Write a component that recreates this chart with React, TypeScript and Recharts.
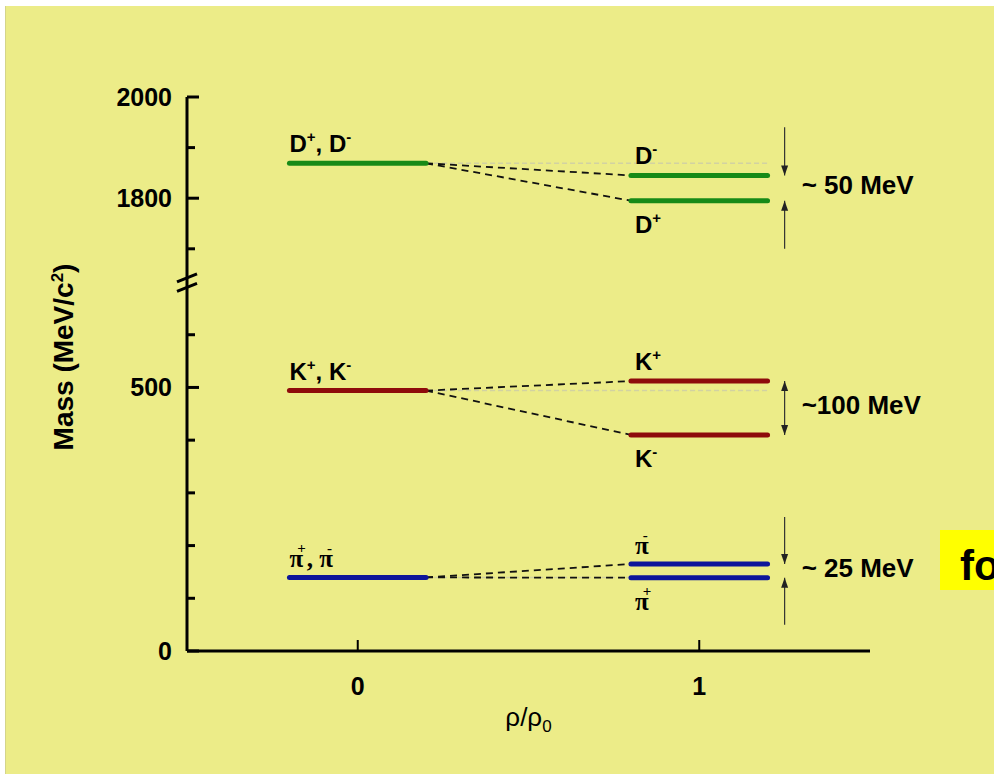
import React from 'react';
import { ComposedChart, Line, Scatter, XAxis, YAxis, Label } from 'recharts';

// ---------------- data ----------------
const MESONS = ['D', 'K', 'π'];
const VACUUM_MASS = [1869, 494, 139.6];        // ρ/ρ0 = 0
const MEDIUM_UPPER_MASS = [1845, 512, 165];    // ρ/ρ0 = 1 : D-, K+, π-
const MEDIUM_LOWER_MASS = [1795, 410, 139];    // ρ/ρ0 = 1 : D+, K-, π+
const VACUUM_LABELS = ['D^+, D^-', 'K^+, K^-', 'π^+, π^-'];
const UPPER_LABELS = ['D^-', 'K^+', 'π^-'];
const LOWER_LABELS = ['D^+', 'K^-', 'π^+'];
const SPLITTING_LABELS = ['~ 50 MeV', '~100 MeV', '~ 25 MeV'];
const ARROW_OUTER_TOP = [1940, null, 254];
const ARROW_OUTER_BOTTOM = [1700, null, 50];
const DENSITY = [0, 1];
const X_DOMAIN = [-0.5, 1.5];
const MASS_MAJOR_TICKS = [0, 500, 1800, 2000];
const MASS_MINOR_TICKS = [100, 200, 300, 400, 600, 1700, 1900];
const AXIS_BREAK = [690, 708];
const X_TITLE = 'ρ/ρ_0';
const Y_TITLE = 'Mass (MeV/c^2)';
const SIDE_NOTE = 'fo';

// ------------- broken axis mapping -------------
const LOWER_MAX = 1000;
const UPPER_ORIGIN = 1800;
const UPPER_BASE = 859;
const UPPER_FACTOR = 0.96;
const toAxis = (m: number) => (m <= LOWER_MAX ? m : UPPER_BASE + (m - UPPER_ORIGIN) * UPPER_FACTOR);

const Y_TICKS = [...MASS_MAJOR_TICKS, ...MASS_MINOR_TICKS].sort((a, b) => a - b);
const Y_TICK_AXIS = Y_TICKS.map(toAxis);
const Y_DOMAIN = [0, toAxis(2000)];

// ------------- style -------------
const W = 994;
const H = 774;
const BG = '#ECEC88';
const COLORS = ['#178a17', '#8e0b0b', '#0d159a'];
const SANS = '"Liberation Sans", Arial, sans-serif';
const SERIF = '"Liberation Serif", "Times New Roman", serif';
const HALF = 0.2;
const ARROW_X = DENSITY[1] + 0.25;

function rich(src: string, supSize: number, supRise: number, supDx: number, afterDx = 0) {
  const parts: { t: string; k: string }[] = [];
  let buf = '';
  for (let i = 0; i < src.length; i++) {
    const c = src[i];
    if ((c === '^' || c === '_') && i + 1 < src.length) {
      if (buf) parts.push({ t: buf, k: '' });
      buf = '';
      parts.push({ t: src[i + 1], k: c });
      i++;
    } else buf += c;
  }
  if (buf) parts.push({ t: buf, k: '' });
  let cur = 0;
  let prevSup = false;
  return parts.map((p, i) => {
    const target = p.k === '^' ? -supRise : p.k === '_' ? supRise * 0.6 : 0;
    const dy = target - cur;
    cur = target;
    const dx = p.k ? supDx : prevSup ? afterDx : 0;
    prevSup = !!p.k;
    return (
      <tspan key={i} dy={dy} dx={dx} fontSize={p.k ? supSize : undefined}>
        {p.t}
      </tspan>
    );
  });
}

// ------------- series data built from arrays -------------
const seg = (x1: number, m1: number, x2: number, m2: number) => [
  { x: x1, y: toAxis(m1) },
  { x: x2, y: toAxis(m2) },
];

const refLines = MESONS.map((_, i) => seg(DENSITY[0] + HALF, VACUUM_MASS[i], DENSITY[1] + HALF, VACUUM_MASS[i]));
const connectors = MESONS.flatMap((_, i) => [
  seg(DENSITY[0] + HALF, VACUUM_MASS[i], DENSITY[1] - HALF, MEDIUM_UPPER_MASS[i]),
  seg(DENSITY[0] + HALF, VACUUM_MASS[i], DENSITY[1] - HALF, MEDIUM_LOWER_MASS[i]),
]);
const levels = MESONS.flatMap((_, i) => [
  { color: COLORS[i], data: seg(DENSITY[0] - HALF, VACUUM_MASS[i], DENSITY[0] + HALF, VACUUM_MASS[i]) },
  { color: COLORS[i], data: seg(DENSITY[1] - HALF, MEDIUM_UPPER_MASS[i], DENSITY[1] + HALF, MEDIUM_UPPER_MASS[i]) },
  { color: COLORS[i], data: seg(DENSITY[1] - HALF, MEDIUM_LOWER_MASS[i], DENSITY[1] + HALF, MEDIUM_LOWER_MASS[i]) },
]);
const arrows = MESONS.flatMap((_, i) => {
  const top = ARROW_OUTER_TOP[i];
  const bottom = ARROW_OUTER_BOTTOM[i];
  if (top == null || bottom == null) {
    return [[
      { x: ARROW_X, y: toAxis(MEDIUM_UPPER_MASS[i]), head: 'up' },
      { x: ARROW_X, y: toAxis(MEDIUM_LOWER_MASS[i]), head: 'down' },
    ]];
  }
  return [
    [{ x: ARROW_X, y: toAxis(top), head: '' }, { x: ARROW_X, y: toAxis(MEDIUM_UPPER_MASS[i]), head: 'down' }],
    [{ x: ARROW_X, y: toAxis(bottom), head: '' }, { x: ARROW_X, y: toAxis(MEDIUM_LOWER_MASS[i]), head: 'up' }],
  ];
});
const labelPoints = MESONS.flatMap((_, i) => [
  { x: DENSITY[0] - HALF, y: toAxis(VACUUM_MASS[i]), text: VACUUM_LABELS[i], role: 'above', inset: false },
  { x: DENSITY[1] - HALF, y: toAxis(MEDIUM_UPPER_MASS[i]), text: UPPER_LABELS[i], role: 'above', inset: true },
  { x: DENSITY[1] - HALF, y: toAxis(MEDIUM_LOWER_MASS[i]), text: LOWER_LABELS[i], role: 'below', inset: true },
]);
const splitPoints = MESONS.map((_, i) => ({
  x: ARROW_X,
  y: (toAxis(MEDIUM_UPPER_MASS[i]) + toAxis(MEDIUM_LOWER_MASS[i])) / 2,
  text: SPLITTING_LABELS[i],
}));
const breakPoints = AXIS_BREAK.map((v) => ({ x: X_DOMAIN[0], y: v }));

// ------------- renderers -------------
const YTick = (props: any) => {
  const { x, y, payload } = props;
  const idx = Y_TICK_AXIS.findIndex((v) => Math.abs(v - payload.value) < 1e-6);
  const mass = Y_TICKS[idx];
  const major = MASS_MAJOR_TICKS.includes(mass);
  return (
    <g>
      <line x1={x} x2={x + (major ? 12 : 8)} y1={y} y2={y} stroke="#000" strokeWidth={3} />
      {major && (
        <text x={x - 15} y={y} dy="0.36em" textAnchor="end" fontFamily={SANS} fontWeight="bold" fontSize={25} fill="#000">
          {mass}
        </text>
      )}
    </g>
  );
};

const XTick = (props: any) => {
  const { x, y, payload } = props;
  return (
    <g>
      <line x1={x} x2={x} y1={y} y2={y - 11} stroke="#000" strokeWidth={2} />
      <text x={x} y={y + 44} textAnchor="middle" fontFamily={SANS} fontWeight="bold" fontSize={25} fill="#000">
        {payload.value}
      </text>
    </g>
  );
};

const YTitle = (props: any) => {
  const vb = props.viewBox || { x: 0, y: 97, width: 187, height: 554 };
  const cx = vb.x + 73;
  const cy = vb.y + vb.height / 2 - 17;
  return (
    <text
      transform={`rotate(-90 ${cx} ${cy})`}
      x={cx}
      y={cy}
      dy="0.36em"
      textAnchor="middle"
      fontFamily={SANS}
      fontWeight="bold"
      fontSize={28}
      fill="#000"
    >
      {rich(Y_TITLE, 17, 10, 0)}
    </text>
  );
};

const XTitle = (props: any) => {
  const vb = props.viewBox || { x: 187, y: 651, width: 683, height: 123 };
  return (
    <text x={vb.x + vb.width / 2} y={vb.y + 75} textAnchor="middle" fontFamily={SANS} fontSize={26} fill="#000">
      {rich(X_TITLE, 17, 10, 0)}
    </text>
  );
};

const LabelShape = (props: any) => {
  const { cx, cy, payload } = props;
  if (cx == null || cy == null) return <g />;
  const serif = payload.text.includes('π');
  const dy = payload.role === 'above' ? (serif ? -10 : -11) : serif ? 32 : 32;
  const dx = payload.inset ? 4 : 0;
  return (
    <text
      x={cx + dx}
      y={cy + dy}
      fontFamily={serif ? SERIF : SANS}
      fontWeight="bold"
      fontSize={serif ? 25 : 24}
      fill="#000"
    >
      {serif ? rich(payload.text, 15, 14, -6, 1) : rich(payload.text, 15, 10, 0)}
    </text>
  );
};

const SplitShape = (props: any) => {
  const { cx, cy, payload } = props;
  if (cx == null || cy == null) return <g />;
  return (
    <text x={cx + 17} y={cy - 3} dy="0.36em" fontFamily={SANS} fontWeight="bold" fontSize={26} fill="#000">
      {payload.text}
    </text>
  );
};

const BreakShape = (props: any) => {
  const { cx, cy } = props;
  if (cx == null || cy == null) return <g />;
  return <line x1={cx - 10} y1={cy + 4} x2={cx + 10} y2={cy - 4} stroke="#000" strokeWidth={3} />;
};

const arrowDot = (props: any) => {
  const { cx, cy, payload, index } = props;
  const key = `ah-${index}-${cx}-${cy}`;
  if (!payload || !payload.head || cx == null) return <g key={key} />;
  const s = payload.head === 'down' ? -1 : 1;
  return <path key={key} d={`M${cx},${cy} L${cx - 3.5},${cy + s * 10} L${cx + 3.5},${cy + s * 10} Z`} fill="#222" />;
};

export default function App() {
  return (
    <div style={{ position: 'absolute', left: 0, top: 0, width: W, height: H, background: '#fff', overflow: 'hidden' }}>
      <div
        style={{
          position: 'absolute',
          left: 5,
          top: 6,
          right: 0,
          bottom: 0,
          background: BG,
          borderLeft: '1px solid #d4d48a',
        }}
      />
      <div style={{ position: 'absolute', left: 0, top: 0 }}>
        <ComposedChart width={W} height={H} margin={{ top: 97, right: 124, bottom: 0, left: 0 }}>
          <XAxis
            type="number"
            dataKey="x"
            domain={X_DOMAIN}
            ticks={DENSITY}
            interval={0}
            height={123}
            tickSize={0}
            tickMargin={0}
            tickLine={false}
            tick={<XTick />}
            axisLine={{ stroke: '#000', strokeWidth: 3 }}
          >
            <Label content={<XTitle />} />
          </XAxis>
          <YAxis
            type="number"
            dataKey="y"
            domain={Y_DOMAIN}
            ticks={Y_TICK_AXIS}
            interval={0}
            width={187}
            tickSize={0}
            tickMargin={0}
            tickLine={false}
            tick={<YTick />}
            axisLine={{ stroke: '#000', strokeWidth: 3 }}
          >
            <Label content={<YTitle />} />
          </YAxis>

          {refLines.map((d, i) => (
            <Line
              key={`ref-${i}`}
              data={d}
              dataKey="y"
              type="linear"
              stroke="#d2d2a2"
              strokeWidth={1.5}
              strokeDasharray="5 3"
              dot={false}
              activeDot={false}
              isAnimationActive={false}
            />
          ))}
          {connectors.map((d, i) => (
            <Line
              key={`con-${i}`}
              data={d}
              dataKey="y"
              type="linear"
              stroke="#111"
              strokeWidth={1.8}
              strokeDasharray="7 5"
              dot={false}
              activeDot={false}
              isAnimationActive={false}
            />
          ))}
          {levels.map((l, i) => (
            <Line
              key={`lvl-${i}`}
              data={l.data}
              dataKey="y"
              type="linear"
              stroke={l.color}
              strokeWidth={5}
              strokeLinecap="round"
              dot={false}
              activeDot={false}
              isAnimationActive={false}
            />
          ))}
          {arrows.map((d, i) => (
            <Line
              key={`arr-${i}`}
              data={d}
              dataKey="y"
              type="linear"
              stroke="#333"
              strokeWidth={1.2}
              dot={arrowDot}
              activeDot={false}
              isAnimationActive={false}
            />
          ))}
          <Scatter data={labelPoints} dataKey="y" shape={LabelShape} isAnimationActive={false} />
          <Scatter data={splitPoints} dataKey="y" shape={SplitShape} isAnimationActive={false} />
          <Scatter data={breakPoints} dataKey="y" shape={BreakShape} isAnimationActive={false} />
        </ComposedChart>
      </div>
      <svg style={{ position: 'absolute', left: 0, top: 0 }} width={W} height={H} pointerEvents="none">
        <rect x={940} y={530} width={60} height={60} fill="#FFFF00" />
        <text x={960} y={580} fontFamily={SANS} fontWeight="bold" fontSize={42} fill="#000">
          {SIDE_NOTE}
        </text>
      </svg>
    </div>
  );
}
